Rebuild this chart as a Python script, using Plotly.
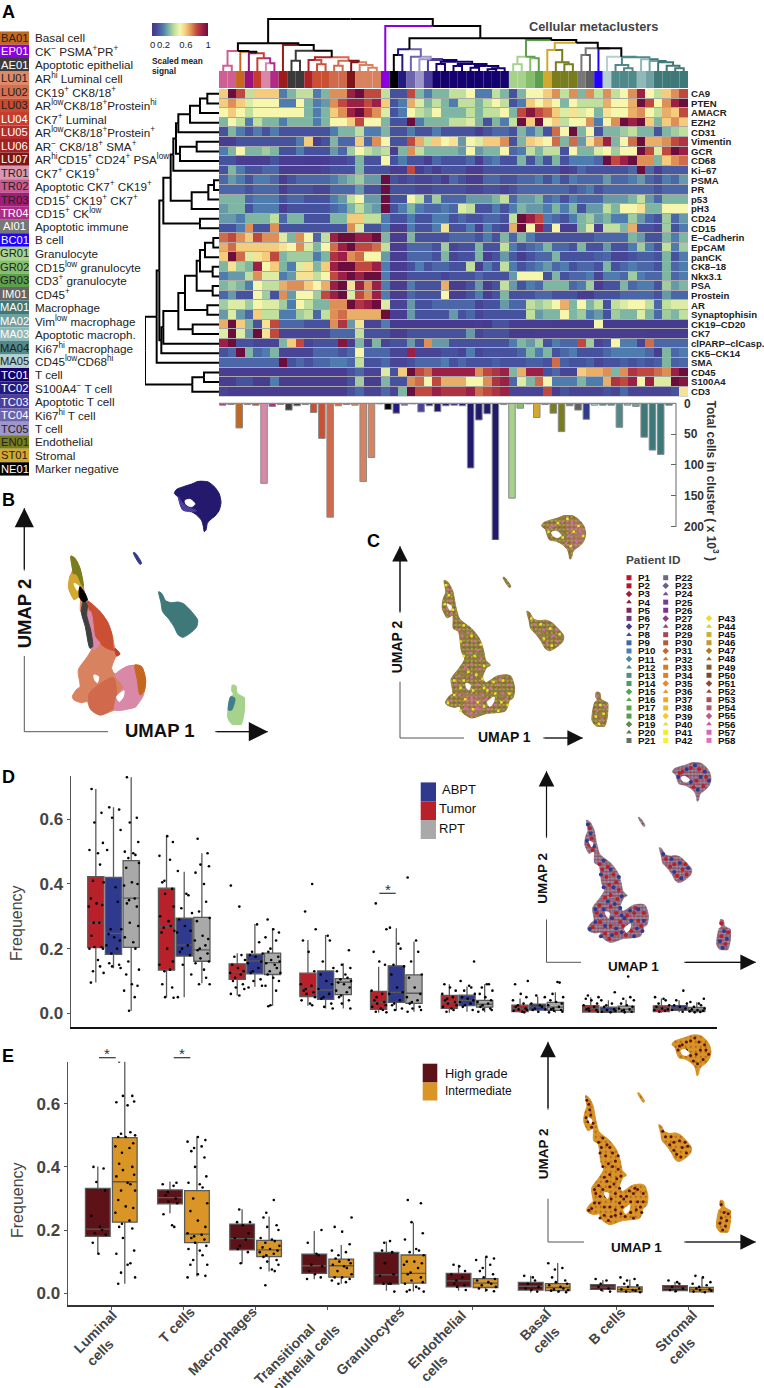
import plotly.graph_objects as go

W, H = 764, 1388
FONT = "Liberation Sans"

# ---------------- clusters (legend column of panel A)
cluster_codes = ["BA01","EP01","AE01","LU01","LU02","LU03","LU04","LU05","LU06","LU07","TR01","TR02","TR03","TR04",
                 "AI01","BC01","GR01","GR02","GR03","IM01","MA01","MA02","MA03","MA04","MA05","TC01","TC02","TC03",
                 "TC04","TC05","EN01","ST01","NE01"]
cluster_names = ["Basal cell","CK<sup>−</sup> PSMA<sup>+</sup>PR<sup>+</sup>","Apoptotic epithelial","AR<sup>hi</sup> Luminal cell",
                 "CK19<sup>+</sup> CK8/18<sup>+</sup>","AR<sup>low</sup>CK8/18<sup>+</sup>Prostein<sup>hi</sup>","CK7<sup>+</sup> Luminal",
                 "AR<sup>low</sup>CK8/18<sup>+</sup>Prostein<sup>+</sup>","AR<sup>−</sup> CK8/18<sup>+</sup> SMA<sup>+</sup>",
                 "AR<sup>hi</sup>CD15<sup>+</sup> CD24<sup>+</sup> PSA<sup>low</sup>","CK7<sup>+</sup> CK19<sup>+</sup>",
                 "Apoptotic CK7<sup>+</sup> CK19<sup>+</sup>","CD15<sup>+</sup> CK19<sup>+</sup> CK7<sup>+</sup>","CD15<sup>+</sup> CK<sup>low</sup>",
                 "Apoptotic immune","B cell","Granulocyte","CD15<sup>low</sup> granulocyte","CD3<sup>+</sup> granulocyte","CD45<sup>+</sup>",
                 "Macrophage","Vim<sup>low</sup> macrophage","Apoptotic macroph.","Ki67<sup>hi</sup> macrophage","CD45<sup>low</sup>CD68<sup>hi</sup>",
                 "T cell","S100A4<sup>−</sup> T cell","Apoptotic T cell","Ki67<sup>hi</sup> T cell","T cell","Endothelial","Stromal","Marker negative"]
cluster_colors = ["#c5681d","#8a00e0","#3b3b3b","#dc8a6a","#d4704f","#c94a2e","#c63c2e","#b52e2e","#a32323","#7f1417","#d998b0","#c95b90",
                  "#a11d78","#b02a87","#777777","#2000ff","#a8d48e","#85bf6c","#5da04c","#666666","#3f7878","#6fa1a1","#8fb8b8","#4f8989",
                  "#b4d0cf","#14006e","#231a80","#4b3f9e","#6e64ad","#9e97cb","#7a7d1e","#d2a92e","#000000"]
cluster_text = ["#222","#fff","#fff","#222","#222","#222","#fff","#fff","#fff","#fff","#222","#222","#222","#fff","#fff","#fff","#222","#222",
                "#222","#fff","#fff","#fff","#fff","#222","#222","#fff","#fff","#fff","#fff","#222","#222","#222","#fff"]

# ---------------- heatmap
markers = ["CA9","PTEN","AMACR","EZH2","CD31","Vimentin","GCR","CD68","Ki–67","PSMA","PR","p53","pH3","CD24","CD15","E–Cadherin","EpCAM",
           "panCK","CK8–18","Nkx3.1","PSA","Prostein","AR","Synaptophisin","CK19–CD20","CK7","clPARP–clCasp.","CK5–CK14","SMA","CD45","S100A4","CD3"]
CA9 = [6,10,8,4,6,6,6,2,3,4,4,2,3,7,7,9,10,8,8,4,1,1,8,3,2,3,3,4,4,5,2,2, 4,3,1,3,5,5,6,7,4,7,3,7,4,7,4,5,7,9,5,4,6,7,8]
PTEN = [6,7,6,4.5,5,5,5,2,2,5,3,2,2.5,7,8,9,9,8,9,6,1,2,6.5,4.5,3,4,3,2,4,4,3,4, 5,4,1,2,6,5,6,5,3,5,4,4,4,6.5,5,5,6.5,10,8,5,7,9,10]
AMACR = [5,6,5,4,5,5,5,5,5,5,3,2,3,6,7,9,10,8,7,4.5,1,2,5,4,3.5,5,3,3,3,4,3,4, 4,5,3,8,9.5,8,7.5,6,4.5,5.5,4.5,5,3,5.5,5,5,6.5,7,5,4,6.5,6,8]
EZH2 = [3,5,4,2,4,3,3,2,3,3,3,2,3,5,5,6,8,5,5,3,1,1,10,2,3,3,3,4,4,4.5,3,1, 3,2,4,10,6,10,5,6,4,5,5,7,2,5,7,10,9,10,6,3,6,7,6]
CD31 = [1,3,2,1,2,1,2,1,1,1,1,1,1,2,3,3,4,2,2,3,1,1,2,1,1,2,1,1,1,1,0.5,1, 1.5,1.5,1,3,2,3,1,7.5,5,10,3,5,1,3,3,3.5,4,3,3,1,3,3.5,4]
Vimentin = [0.5,0.5,1,1,1,1,1,1,1,2,6,0.5,1,3,1.5,1.5,6,1.5,7,5,1,1,8,6.5,4,6,5,5.5,2.5,5,4.5,6, 6,7,1,3,6,5.5,5,7.5,3,7.5,2.5,5.5,7,9,3,5,7.5,10,6.5,6.5,7,8,8.5]
GCR = [2,3,5,3,3,3.5,3,1,1,2,1,1,1,2.5,1.5,3.5,5,4,3.5,4,0.5,3,7,4,3,3,3,3,2.5,5,2.5,3, 3,5,1.5,2,4,3,4,4,1,5,3,3,4.5,5,3.5,5,5,10,8,4.5,8,10,9]
CD68 = [1,1,0.5,0.5,0.5,0.5,1,0.5,0.5,0.5,0.3,0.3,0.5,0.7,0.7,1,3,1,1,5,1,2,1,1,0.5,1.5,1,1,1,1.5,0.5,1.5, 2,1,1,3,1,2.5,1,3,1,2,2,2,1.5,10,8,9,10,7,7,3,6,7,7.5]
Ki67 = [1,3,2,1,1,1.5,1.5,0.5,0.5,0.5,0.5,0.5,0.7,1,1,1,3,1,1,1,0.5,0.5,8,0.5,1,0.5,1,1,1,0.5,0.5,1, 1,1,1,1,1,1,1,1,0.5,0.7,1.5,1,1,1,1,1,1.5,10,1.5,0.5,1.2,1.2,1.2]
PSMA = [1.5,2.5,2,1,2,2,1.5,0.5,1,1.5,1.5,1.5,1.5,2,2.5,3,3.5,2.5,2.5,10,1,0.7,1,0.7,0.7,1,0.5,1.5,1,0.5,0.5,1.5, 1.5,1,1,1.5,1.5,2,1,2,1,2,1.5,1.5,1.5,2.5,1.5,1.5,2,2.5,1.5,1,2,1.5,2.5]
PR = [1.5,1.5,1.5,1,1.5,1.5,1.5,0.5,1,1,1,0.7,0.7,1.5,1.5,1.5,2.5,1,1,10,1,1,1,0.7,0.7,1,1,1,1,0.7,0.7,1, 1,0.7,1,1.5,1.5,1.5,1.5,1.5,1.5,1,1.5,2,1,1.5,1.5,1.5,1.5,1.5,1.5,1,1.5,1.5,1.5]
p53 = [3,3,3,1.5,2,2,2,1,1.5,1.5,1,1,1,2,2.5,4,5,2.5,2.5,10,1,1,5,4,1.5,3.5,1.5,1.5,1.5,2.5,2.5,2.5, 3,4,1.5,2.5,2.5,3,1.5,2,1,2,1.5,1.5,1.5,2.5,2.5,2.5,3,4,2.5,1.5,3,3,3]
pH3 = [2.5,3,3,1,2,2,2,0.5,1,1,1,1,1,1.5,2,3,4,3,2.5,10,1,2,3,2,1.5,1.5,2,1.5,4.5,4,1,1, 2,1,2,3,2.5,2.5,2,3,2,3,1,2.5,2.5,4,3,5,5,5.5,3,3,5,5,5]
CD24 = [2.5,2.5,2,3,3,3,4,1.5,3,3,1,1,1,3,3,6,6,4,4,2,1,1,2,1,1,2,2,1,1.5,1,1,1.5, 1.5,1,4,10,9,8,2,1.5,1,2,3,3.5,2.5,3,2,2,3.5,2.5,1.5,1,3.5,1.5,2.5]
CD15 = [1,1,2,7,1,1,7,1,1,1,1,1,1,1,1,7,4.5,1,1,2,0.5,0.5,2,1,1,2,5.5,1,1,2,0.5,2, 1,0.7,6.5,10,5,9,1,5,0.5,0.5,3,4.5,0.5,4,4,3,6.5,1,1,0.7,3.5,1,2]
ECad = [7.5,8,7,6,8,7,7,4.5,3,7,5,1.5,4,9,10,10,9,9,10,3,0.5,0.5,3,1,1,1,1,1.5,1.5,1.5,1,2, 1,3,1.5,3,2,1,1,1,1,1,1,1,1.5,1.5,1.5,1.5,3,2.5,1,1,3,2,3]
EpCAM = [6.5,7.5,6,6,6,6,6,5.5,5,7,4.5,3,5,7.5,9,10,8,8,7.5,4,0.5,0.5,1.5,1.5,1.5,1,3.5,0.7,1,1,3,1, 1,4,2,1,1.5,2,3,1.5,1.5,1,3,1,1,2.5,1,1,2,3.5,2,1,4,2,3.5]
panCK = [6,10,7.5,4.5,5.5,6,8,3,3.5,3.5,3.5,2,3,8.5,9,7,7.5,5,5,2.5,0.5,0.5,1.5,1.5,1.5,1,3,0.7,1,1,3,0.5, 1,2.5,1.2,0.5,1,1.5,1.5,3,1,1,1,1,1.3,1.5,0.7,0.7,1,1.3,1.3,1,3,1,2]
CK818 = [3,5.5,3.5,3,9,5,6,3,2,4.5,5.5,3,6,9,10,10,8,8,9,2,0.5,0.5,1,2,1,1.5,1.5,1,1,4,0.5,2, 1,4,2,1,1.5,2,2.5,1.5,2,1,1.5,1.5,1,3,1,1.5,2,1.5,1.5,1,3,1.5,2]
Nkx31 = [2,2.5,2.5,4,7,4.5,4.5,2,2.5,5.5,5.5,4,5,8,9,10,9,10,10,2,0.5,0.5,1,1,1,1,0.7,1,1,1,1.5,1, 1,1,2.5,5,5,5,1,3,1,1.5,1.5,2,0.7,2,2,1.5,3.5,2,1.5,1.5,3,1.5,2]
PSA = [3,3.5,3,2,5,4,4,6.5,7,7,6,5,6.5,9,10,5.5,9,7,9,2,0.5,0.5,2,1,1,1,6.5,0.5,0.5,1,2.5,0.5, 1,4,2.5,1,2,1.5,3,3,3,1.5,2,3.5,0.5,1,1,3,1.5,2,2,1,3.5,2.5,3]
Prostein = [1.5,2.5,1,1,5,3.5,1,7,2.5,5,5,3.5,8,9,10,4.5,8,7,9,2,0.5,0.5,1.5,1,1,1,5,0.5,0.5,1,2,0.5, 1,3,1,1,1,1.5,1.5,1,1,1,0.5,0.5,1,1,1,1.5,1.5,1.5,1.5,1,2.5,1.5,1.5]
AR = [3.5,4.5,4.5,3.5,5,4.5,4.5,3.5,2,5,4,3,3,7,7,10,8.5,9,10,4.5,0.7,0.7,2.5,1,1,1.5,1.5,1.5,1.5,1.5,0.7,1, 1,2.5,1.5,1.5,4,3.5,4,5,6.5,3,5,3,4,1,4,4.5,5,5,4,1.5,4,4.5,4.5]
Synapto = [2.5,4.5,2.5,1.5,6,4,4,2,2,3.5,4,1.5,4,7,7.5,6.5,6.5,6.5,6.5,10,0.5,0.5,2.5,1,1,1,1,2.5,1,1.5,0.7,1, 1,1,1,1,4,2.5,3,3,5,3,3.5,2,2.5,1,3.5,3,3,4.5,3,1.5,3.5,3,4]
CK19 = [6.5,10,6,3,1,5.5,8,1.5,1.5,1.5,1,1,1,7,8.5,2.5,5.5,0.7,0.7,2,0.3,0.3,0.3,0.3,0.3,0.3,0.3,0.3,0.3,0.3,0.5,0.3, 1,1,0.5,0.5,0.5,0.5,0.5,0.3,0.3,0.3,0.3,0.3,5,0.3,0.3,0.3,0.3,0.3,0.3,0.3,0.3,0.3,0.3]
CK7 = [4.5,10,4.5,2.5,10,5.5,8,0.7,0.7,0.7,0.7,0.7,0.7,1.5,1.5,1.5,4,1,1,1,0.5,0.5,1,1,1,1,1,1,1,2.5,0.7,1, 1,1,0.3,0.3,0.3,0.5,0.5,0.5,0.5,0.5,0.5,0.5,0.5,0.5,0.5,0.5,0.5,0.5,0.3,0.3,0.3,0.3,0.3]
clPARP = [9,10,1,1,0.7,0.7,0.7,3,6,8,0.7,1,1,1,9.5,0.5,3,0.7,3,0.7,1,1,2.5,1,7,2.5,2.5,1,1,1,1,1, 1,1,2,3,2.5,3.5,1,2,1.5,1.5,8,3.5,0.7,1,5,2,2,0.7,7.5,1.5,1.5,1.5,1.5]
CK5 = [1,1.5,10,3,1.5,2,3,0.7,0.7,0.7,0.7,1.5,1.5,1.5,1,1.5,5,1.5,1.5,1.5,0.7,0.7,9,0.7,0.7,0.7,1,1,0.7,2,0.7,1, 1,1,1,1.5,3,2,3,1,1.5,2,1,1,1,1.5,2,2,2,2,1.5,0.5,3,1.5,2]
SMA = [1.5,1.5,1.5,1.5,1.5,1.5,1.5,10,1,1.5,1,1.5,1.5,2,2,1.5,4,1,1,1.5,0.7,0.7,1,1.5,1.5,1.5,2,1,1.5,1,1,1, 1.3,1,1,1,1.3,1.3,1,7.5,1.3,1,1,1.3,0.7,1,1,1.3,1,1.3,1,1.3,3,1.3,1.5]
CD45 = [0.5,0.5,0.5,0.5,0.5,0.5,0.5,0.5,0.5,0.5,0.5,0.5,0.5,0.5,0.5,1,1.5,0.7,0.7,4.5,1,6,10,8,7.5,9,9,9,9,9,7,8, 8.5,9,3,6.5,9,9,1,1.5,0.7,0.7,6,6.5,6.5,7,3,7,8.5,8,8,7.5,7,9,10]
S100A4 = [0.5,0.5,1,1,0.5,0.5,2,0.5,0.5,0.5,0.5,0.5,0.5,0.5,0.5,1,3.5,0.5,0.5,3,1,1,7,7.5,5,8,6.5,6.5,6.5,5,5,7, 8.5,9,1.5,4.5,3,7.5,5,2,2,2,3,2,2,6.5,8.5,8,9,5,9,4.5,4.5,10,9.5]
CD3 = [0.7,0.5,0.5,0.5,0.5,0.5,0.5,0.5,0.5,0.5,0.5,0.5,0.5,0.5,0.5,1,1.5,0.7,0.7,1.5,0.7,3,10,8,8,9,8.5,8.5,8.5,9,7.5,8, 8.5,9,0.7,0.7,0.7,0.7,8,0.5,1,0.7,0.7,0.7,0.7,1,0.7,1.5,0.7,0.7,0.7,0.7,0.7,1,5.5]
heat_rows = [CA9,PTEN,AMACR,EZH2,CD31,Vimentin,GCR,CD68,Ki67,PSMA,PR,p53,pH3,CD24,CD15,ECad,EpCAM,panCK,CK818,Nkx31,PSA,Prostein,AR,Synapto,CK19,CK7,clPARP,CK5,SMA,CD45,S100A4,CD3]
for nm, r in zip(markers, heat_rows):
    assert len(r) == 55, (nm, len(r))

spectral = [[0,"#45378c"],[.05,"#493d92"],[.1,"#47529f"],[.2,"#4f7cae"],[.3,"#7fb5a3"],[.4,"#c2e09d"],[.5,"#f6f7ad"],[.6,"#f4cc7b"],
            [.7,"#de8f55"],[.8,"#c0483f"],[.9,"#9c2046"],[1,"#6b0d3d"]]

# ---------------- column strip + bars
strip_colors = ["#cf5f92","#cf5f92","#c5681d","#9b1278","#c63c2e","#d988a8","#b02a87","#9c1c1c","#3a3a3a","#3a3a3a","#ab2327","#cb4f33","#cb4f33",
                "#d16a4c","#d16a4c","#7f1417","#d9825f","#d9825f","#d9825f","#8a00e0","#000000","#231a80","#6e64ad","#9e97cb","#4b3f9e",
                "#14006e","#14006e","#14006e","#14006e","#14006e","#14006e","#14006e","#14006e","#14006e",
                "#a6d28c","#a6d28c","#86bf6c","#5da04c","#d2a92e","#7a7d1e","#7a7d1e","#7a7d1e","#777777","#5f5f5f","#2000ff","#b4d0cf",
                "#4f8989","#4f8989","#4f8989","#8fb8b8","#6fa1a1","#3f7878","#3f7878","#3f7878","#3f7878"]
bar_values = [3,2,40,2,3,130,5,2,11,4,2,15,57,185,4,2,3,127,88,1,10,16,3,1,14,4,13.5,4,3,4,105,27,17,222,2,154,8,1,23,2,16,46,4,11,26,3,3,3,39,3,5,55,76,83,3]
bar_colors = list(strip_colors)
bar_colors[0] = "#b02a87"; bar_colors[1] = "#cf5f92"; bar_colors[19] = "#3a3a3a"; bar_colors[20] = "#000000"
bar_colors[25:34] = ["#201a6e"] * 9
bar_colors[44] = "#2f3b8c"
bar_colors[51:54] = ["#3f7878"] * 3

# ---------------- dendrograms: (height, colour, left, right); leaves are integers
def N(y, c, l, r):
    return (213 - y, c, l, r)
def R(x, l, r):
    return (657 - x, "#000000", l, r)
BK = "#000000"
n_pink = N(197, "#cf5f92", 1, 2)
n_red = N(175, "#c63c2e", 5, N(190, "#b02a87", 6, 7))
n_lumA = N(153, BK, n_pink, N(155, BK, 3, N(160, BK, 4, n_red)))
n_red2 = N(180, "#ab2327", 11, N(193, "#cb4f33", 12, 13))
n_sal = N(182, "#d16a4c", N(197, "#d16a4c", 14, 15), N(187, "#7f1417", 16, N(195, "#d9825f", 17, N(203, "#d9825f", 18, 19))))
n_lumB = N(135, BK, 8, N(152, BK, N(182, "#3a3a3a", 9, 10), N(172, BK, n_red2, n_sal)))
n_left = N(130, BK, n_lumA, n_lumB)
n_navy = N(185, "#14006e", N(192, "#14006e", 26, 27), N(192, "#14006e", N(198, "#14006e", 28, 29), N(198, "#14006e", N(203, "#14006e", 30, 31), N(205, "#14006e", N(208, "#14006e", 32, 33), 34))))
n_t = N(148, BK, N(165, "#231a80", 21, 22), N(170, "#6e64ad", 23, N(178, "#9e97cb", 24, N(180, "#14006e", 25, n_navy))))
n_gran = N(170, "#5da04c", N(193, "#a6d28c", 35, 36), N(175, "#5da04c", 37, 38))
n_olive = N(150, "#d2a92e", 39, N(187, "#7a7d1e", 40, N(193, "#7a7d1e", 41, 42)))
n_teal = N(170, BK, 46, N(172, "#4f8989", N(195, "#4f8989", 47, N(205, "#4f8989", 48, 49)),
                                 N(178, "#4f8989", 50, N(183, "#3f7878", 51, N(187, "#3f7878", 52, N(197, "#3f7878", 53, N(205, "#3f7878", 54, 55)))))))
n_right3 = N(128, BK, n_olive, N(145, BK, N(165, "#777777", 43, 44), N(145, BK, 45, n_teal)))
n_right = N(120, BK, n_gran, n_right3)
n_r2 = N(115, BK, n_t, n_right)
top_tree = N(57, BK, n_left, N(78, BK, 20, n_r2))

r_a = R(570, R(600, R(622, 0, 1), 2), 3)
r_b = R(535, r_a, 4)
r_c = R(540, R(590, 5, 6), 7)
r_e = R(520, R(528, r_b, r_c), 8)
r_g = R(575, R(625, R(642, 9, 10), 11), 12)
r_m1 = R(490, R(512, r_e, r_g), R(600, 13, 14))
r_j1 = R(600, R(615, R(640, 15, 16), 17), R(638, 18, 19))
r_j3 = R(555, R(590, r_j1, R(638, 20, 21)), R(622, 22, 23))
r_j6 = R(484, R(490, R(535, r_j3, R(578, 24, 25)), 26), 27)
r_l = R(470, R(478, r_m1, r_j6), 28)
r_k = R(577, R(612, 29, 30), 31)
row_tree = R(435, r_l, r_k)

# ---------------- UMAP regions, in UMAP units
body_x = [213,225,240,250,262,300,325,338,345,360,348,335,345,380,410,425,437,432,420,408,345,300,270,262,245,222,217,230,240,235,262,278,268,258,242,240,222,212,205,212,218]
body_y = [228,235,265,320,362,395,430,470,505,522,530,565,582,560,555,560,600,635,645,680,690,705,685,665,668,660,650,628,620,570,530,500,475,405,395,350,358,340,320,285,270]
top_x = [523,530,550,575,600,625,645,658,663,657,645,630,622,618,613,610,605,590,570,548,540,535]
top_y = [40,28,20,12,2,6,22,42,68,92,108,120,130,150,155,140,122,105,93,88,70,52]
sliver_x = [400,405,425,420]; sliver_y = [218,218,250,253]
teal_x = [476,485,497,515,535,552,575,593,590,570,548,535,522,505,488,483]
teal_y = [335,340,362,368,366,372,395,420,440,460,472,465,440,415,395,368]
green_x = [697,708,712,735,735,722,695,683,692,700,695]
green_y = [615,618,640,655,680,735,732,712,650,643,632]
outline_regions = [(body_x, body_y), (top_x, top_y), (sliver_x, sliver_y), (teal_x, teal_y), (green_x, green_y)]
holes = [([350,372,370,358], [650,632,650,665]), ([555,570,585,575,560], [62,58,72,80,75]), ([282,296,292,284],[585,590,608,600]), ([222,236,232],[310,318,332])]
stray_x = [100]; stray_y = [510]
b_regions = [
    ("#d9825f", body_x, body_y),
    ("#231a6e", top_x, top_y),
    ("#4b3f9e", [535,545,560,590,570,548,540], [50,65,80,92,95,90,72]),
    ("#2f3b8c", sliver_x, sliver_y),
    ("#7a7d1e", [213,225,240,250,242,225,218], [228,235,265,320,325,300,270]),
    ("#d2a92e", [212,228,240,248,240,222,212,205], [285,285,310,325,345,358,340,320]),
    ("#cb4f33", [262,298,322,336,340,345,320,300,285,270], [362,392,425,465,505,512,505,490,470,395]),
    ("#d988a8", [252,272,285,300,282,270,258], [390,395,470,490,510,475,430]),
    ("#3f4040", [252,262,260,272,278,270,256,244], [360,375,405,450,500,505,440,395]),
    ("#000000", [240,255,262,250,238], [320,340,360,365,350]),
    ("#c63c2e", [345,360,350], [505,522,528]),
    ("#d16a4c", [268,340,350,345,300,272], [640,592,640,680,705,688]),
    ("#d988a8", [345,380,410,432,405,345,350,370], [585,560,560,640,680,690,650,620]),
    ("#c5681d", [405,425,437,432,420,412], [555,560,600,635,645,600]),
    ("#3f7878", teal_x, teal_y),
    ("#a6d28c", green_x, green_y),
    ("#3f7f8a", [692,705,695,685], [650,655,690,690]),
]
# hand-read patches of the two dominant labels on the patient / treatment / grade maps
patch_a_x = [225,232,222,235,260,270,290,310,285,320,295,330,300,280,325,260,300,250,285,320,262,300,335,280,320,295,235,360,385,400,375,410,420,355,345,390,560,590,620,645,610,635,600,575,550,500,530,560,540,570,515,575,700,715,725,700]
patch_a_y = [260,300,325,345,400,420,410,440,450,470,480,500,520,530,535,560,565,590,600,590,625,640,625,670,670,690,645,600,590,620,660,640,590,675,640,570,40,25,30,60,75,95,100,60,45,380,400,420,445,400,410,440,680,710,665,630]
patch_b_x = [218,228,215,240,275,300,265,330,310,275,340,290,315,245,275,335,265,305,340,245,280,320,265,305,340,225,370,400,375,395,420,365,415,385,350,575,605,640,655,625,590,615,545,490,520,550,580,530,555,695,720,710,705]
patch_b_y = [245,280,310,330,385,420,440,450,490,490,525,545,555,575,575,570,600,610,600,625,640,650,680,675,665,652,580,575,620,650,620,640,660,680,610,30,15,40,75,60,80,110,60,360,380,395,415,430,455,700,690,660,725]
pink_top_x = [600,640,660,650,620,610]; pink_top_y = [20,20,60,100,125,80]
pink_low_x = [275,330,335,300,278]; pink_low_y = [620,630,680,700,670]

# ---------------- Patients
patient_colors = ["#c8102e","#b5172b","#a31a36","#8b1a3e","#7a2a5a","#6b3a78","#4f3a8f","#3f4aa0","#3f66ad","#4a7fb0","#4a8aa0","#4a8a8a","#4d8f80","#4f9a6a","#4fa35a","#55a845",
                  "#5aa845","#5a9a4a","#5a8a50","#5f7a5a","#667066","#6a6a78","#6f5a8f","#7a4a9f","#7a3a9a","#7f3090","#8a3a80","#9a3f68","#a54a50","#b05a3f","#c0682f","#d0742a",
                  "#dc7a22","#e47f20","#ec8a1f","#ec9a20","#eeaa22","#f0ba25","#f2ca28","#f4da2a","#f6ea2c","#f8f030","#ecdc30","#dcc830","#ccb030","#bc9a2c","#a88028","#986a28",
                  "#8a5a2a","#80482a","#8a4a38","#984a48","#a84f58","#b05a6a","#c05a80","#cc5a98","#d868ac","#e070b8"]
patient_symbols = ["square","square","diamond","triangle-up"]

# ---------------- box statistics: [q1, median, q3, low whisker, high whisker]
cats = ["Luminal<br>cells","T cells","Macrophages","Transitional<br>epithelial cells","Granulocytes","Endothelial<br>cells","Basal<br>cells","B cells","Stromal<br>cells"]
cat_label_x = [101.7,176.7,222.4,297.3,370,442.9,541.9,606.7,682.4]
cat_label_y = [1338.4,1325,1340.7,1354,1340.7,1345.5,1331,1325.7,1336.7]
d_tumor = [[.203,.28,.423,.095,.694],[.134,.268,.387,.05,.548],[.105,.128,.153,.055,.186],[.052,.075,.124,.023,.227],[.012,.033,.068,.002,.144],[.015,.035,.055,.002,.09],[.005,.015,.025,.002,.046],[.004,.014,.024,.002,.05],[.005,.014,.023,.002,.046]]
d_abpt = [[.182,.247,.42,.139,.637],[.177,.211,.294,.05,.438],[.122,.162,.183,.082,.276],[.043,.072,.131,.015,.242],[.034,.065,.147,.008,.263],[.024,.04,.056,.005,.083],[.01,.019,.028,.002,.052],[.003,.009,.019,.001,.04],[.009,.016,.024,.003,.04]]
d_rpt = [[.204,.356,.472,.008,.73],[.161,.196,.297,.093,.495],[.12,.157,.186,.023,.263],[.058,.096,.107,.015,.155],[.031,.062,.119,.005,.222],[.019,.028,.04,.003,.09],[.009,.019,.034,.002,.065],[.004,.013,.022,.002,.042],[.005,.01,.018,.002,.034]]
e_high = [[.18,.203,.332,.124,.401],[.283,.303,.327,.253,.354],[.137,.173,.219,.093,.266],[.063,.087,.124,.044,.197],[.029,.058,.129,.008,.164],[.02,.039,.063,.008,.09],[.01,.022,.034,.002,.055],[.012,.019,.027,.004,.042],[.008,.016,.024,.002,.036]]
e_inter = [[.225,.353,.493,.03,.734],[.16,.187,.325,.053,.496],[.116,.137,.167,.069,.243],[.051,.087,.108,.03,.153],[.032,.063,.121,.005,.224],[.018,.032,.046,.004,.116],[.008,.018,.03,.002,.096],[.004,.011,.02,.001,.043],[.004,.011,.018,.001,.05]]

d_tumor_pts = [[.694,.62,.59,.527,.505,.495,.46,.41,.405,.355,.34,.335,.33,.28,.28,.24,.205,.205,.2,.2,.165,.145,.13,.125,.095],
 [.548,.53,.487,.475,.41,.405,.385,.37,.33,.3,.285,.27,.265,.255,.25,.2,.16,.15,.135,.13,.09,.08,.05,.048],
 [.395,.33,.18,.175,.165,.15,.14,.13,.125,.12,.11,.1,.09,.08,.075,.06,.055],
 [.4,.315,.26,.225,.19,.13,.09,.085,.075,.07,.065,.06,.05,.04,.03,.025],
 [.34,.26,.19,.16,.15,.07,.06,.05,.04,.035,.03,.025,.02,.015,.01,.005,.003],
 [.09,.08,.07,.06,.05,.045,.04,.035,.03,.025,.02,.015,.01,.005],
 [.1,.09,.06,.05,.04,.03,.025,.02,.015,.012,.01,.008,.005,.003],
 [.055,.05,.045,.04,.03,.025,.02,.015,.012,.01,.008,.005],
 [.05,.045,.04,.03,.025,.02,.015,.012,.01,.008,.005]]
d_abpt_pts = [[.637,.63,.605,.567,.505,.39,.345,.26,.26,.245,.235,.225,.21,.2,.185,.155,.15,.145,.14],
 [.44,.37,.365,.325,.31,.29,.27,.255,.25,.21,.2,.19,.18,.15,.12,.05],
 [.275,.22,.19,.185,.18,.175,.16,.155,.14,.13,.125,.105,.1,.085,.08],
 [.24,.225,.16,.14,.12,.1,.09,.075,.06,.05,.045,.03,.02,.015],
 [.265,.215,.2,.15,.145,.12,.08,.065,.06,.04,.03,.025,.015,.01],
 [.16,.1,.085,.08,.07,.06,.05,.045,.04,.035,.03,.025,.02,.01],
 [.055,.05,.03,.025,.02,.015,.012,.01,.005],
 [.065,.04,.03,.025,.02,.012,.01,.008,.005,.003],
 [.07,.04,.03,.025,.02,.015,.01,.005]]
d_rpt_pts = [[.73,.605,.59,.53,.5,.495,.49,.48,.465,.45,.405,.4,.395,.355,.35,.34,.33,.28,.27,.235,.22,.2,.16,.135,.12,.09,.085,.07,.05,.008],
 [.54,.495,.46,.455,.435,.4,.345,.315,.295,.285,.24,.23,.225,.21,.2,.195,.185,.17,.16,.155,.135,.11,.09,.09],
 [.29,.26,.25,.235,.225,.2,.19,.175,.165,.16,.155,.15,.14,.13,.125,.12,.11,.1,.085,.07,.025,.022],
 [.195,.15,.14,.13,.12,.11,.105,.1,.095,.09,.08,.07,.065,.055,.05,.04,.03,.015],
 [.42,.225,.19,.16,.12,.11,.08,.06,.05,.04,.035,.03,.02,.015,.01,.005],
 [.09,.09,.08,.07,.06,.05,.04,.035,.03,.025,.02,.015,.012,.01,.005],
 [.097,.095,.06,.05,.04,.035,.03,.025,.02,.015,.012,.01,.008,.005,.003],
 [.114,.05,.045,.04,.03,.025,.02,.015,.012,.01,.008,.005,.003],
 [.045,.035,.03,.025,.02,.015,.012,.01,.008,.006,.004,.003]]
e_high_pts = [[.4,.395,.352,.325,.245,.21,.2,.19,.185,.16,.125],
 [.35,.345,.34,.32,.31,.3,.29,.285,.25,.215,.21],
 [.265,.225,.225,.215,.19,.175,.17,.15,.14,.13,.095],
 [.2,.16,.125,.12,.09,.085,.07,.06,.05,.045],
 [.165,.16,.135,.13,.095,.06,.055,.03,.03,.03,.005],
 [.09,.085,.07,.06,.05,.04,.03,.025,.02,.01],
 [.055,.05,.04,.03,.02,.015,.01,.005],
 [.045,.04,.03,.02,.015,.01,.005],
 [.04,.035,.03,.02,.015,.01,.006]]
e_inter_pts = [[.734,.625,.625,.607,.605,.595,.51,.505,.5,.495,.495,.475,.465,.46,.445,.41,.4,.39,.375,.37,.35,.345,.325,.325,.295,.275,.27,.255,.23,.22,.21,.205,.175,.135,.125,.09,.095,.065,.05,.03],
 [.495,.485,.48,.465,.46,.45,.43,.4,.37,.35,.345,.335,.3,.285,.26,.23,.21,.19,.185,.18,.175,.17,.16,.15,.14,.135,.12,.105,.09,.09,.06,.055,.05],
 [.295,.255,.24,.215,.21,.2,.175,.17,.165,.16,.15,.145,.14,.135,.13,.125,.12,.115,.105,.1,.09,.08,.075,.07,.025],
 [.24,.21,.195,.155,.135,.13,.12,.11,.105,.1,.095,.09,.085,.08,.07,.06,.05,.05,.045,.04,.035,.03],
 [.295,.285,.225,.19,.17,.14,.135,.13,.12,.1,.1,.095,.09,.08,.065,.06,.05,.04,.035,.03,.02,.015,.01,.005,.005],
 [.115,.11,.105,.09,.08,.07,.06,.05,.045,.04,.035,.03,.025,.02,.015,.01,.006],
 [.095,.08,.075,.05,.04,.035,.03,.025,.02,.015,.012,.01,.008,.005,.003],
 [.05,.045,.04,.03,.025,.02,.015,.012,.01,.008,.005,.003],
 [.055,.05,.035,.03,.025,.02,.015,.012,.01,.008,.005,.003]]
jitter = [-.06,.08,-.02,.1,-.09,.03,.06,-.04,.11,-.07,.01,.09,-.1,.05,-.03]

# ================= construction =================
fig = go.Figure()
layout = {}
anns, shapes = [], []

def dom(x0, x1, y0, y1):
    return [x0 / W, x1 / W], [1 - y1 / H, 1 - y0 / H]

def axes(i, x0, x1, y0, y1, xr, yr, **kw):
    dx, dy = dom(x0, x1, y0, y1)
    s = "" if i == 1 else str(i)
    base = dict(visible=False, fixedrange=True)
    xk = dict(base, domain=dx, range=xr, anchor="y" + s)
    yk = dict(base, domain=dy, range=yr, anchor="x" + s)
    xk.update(kw.get("xkw", {})); yk.update(kw.get("ykw", {}))
    layout["xaxis" + s] = xk
    layout["yaxis" + s] = yk
    return "x" + s, "y" + s

def T(x, y, s, size=11, color="#222", anchor="left", bold=False, angle=0, align="center"):
    if anchor == "left":
        x -= 2
    anns.append(dict(x=x / W, y=1 - y / H, xref="paper", yref="paper", text=s, showarrow=False, xanchor=anchor, yanchor="middle", align=align,
                     textangle=angle, font=dict(family=FONT, size=size, color=color, weight="bold" if bold else "normal")))

def L(x0, y0, x1, y1, color="#555", width=1):
    shapes.append(dict(type="line", xref="paper", yref="paper", x0=x0 / W, x1=x1 / W, y0=1 - y0 / H, y1=1 - y1 / H,
                       line=dict(color=color, width=width)))

def arrow(x0, y0, x1, y1, size=3):
    L(x0, y0, x1, y1)
    anns.append(dict(x=x1 / W, y=1 - y1 / H, xref="paper", yref="paper", ax=x0 - x1, ay=y0 - y1, axref="pixel", ayref="pixel", text="",
                     showarrow=True, arrowhead=2, arrowsize=size, arrowwidth=1.2, arrowcolor="#111"))

# ---- panel A
hx, hy = axes(1, 219, 688, 89, 396.5, [.5, 55.5], [31.5, -.5],
              ykw=dict(visible=True, side="right", tickmode="array", tickvals=list(range(32)), ticktext=markers, showgrid=False, zeroline=False,
                       ticks="", showline=False, ticklabelstandoff=2, tickfont=dict(family=FONT, size=9.6, color="#222", weight="bold")))
fig.add_trace(go.Heatmap(z=heat_rows, x=list(range(1, 56)), y=list(range(32)), xaxis=hx, yaxis=hy, zmin=0, zmax=10, colorscale=spectral, ygap=1,
                         hoverinfo="skip",
                         colorbar=dict(orientation="h", x=152.3 / W, y=1 - 22.7 / H, xanchor="left", yanchor="top", len=56, lenmode="pixels",
                                       thickness=13, thicknessmode="pixels", outlinewidth=0, tickmode="array", tickvals=[0.05, 2, 6, 9.95],
                                       ticktext=["0", "0.2", "0.6", "1"], ticks="", tickangle=0, tickfont=dict(family=FONT, size=9.5, color="#222"), ypad=0, xpad=0)))
# grey rules behind the heatmap rows
shapes.append(dict(type="rect", xref="paper", yref="paper", x0=219 / W, x1=688 / W, y0=1 - 89 / H, y1=1 - 396.5 / H, fillcolor="#aaaaaa", line=dict(width=0), layer="below"))

sx, sy = axes(2, 219, 688, 71, 88, [.5, 55.5], [0, 1])
fig.add_trace(go.Bar(x=list(range(1, 56)), y=[1] * 55, width=1, marker=dict(color=strip_colors, line=dict(width=0)), xaxis=sx, yaxis=sy, hoverinfo="skip"))

def walk(node, pos_of, color_of, segs):
    if not isinstance(node, tuple):
        return pos_of(node), 0, color_of(node)
    h, c, l, r = node
    lp, lh, lc = walk(l, pos_of, color_of, segs)
    rp, rh, rc = walk(r, pos_of, color_of, segs)
    p = (lp + rp) / 2
    segs.append((lc, [lp, lp, p], [lh, h, h]))
    segs.append((rc, [rp, rp, p], [rh, h, h]))
    return p, h, c

def draw_tree(tree, pos_of, color_of, xa, ya, horizontal):
    segs = []
    walk(tree, pos_of, color_of, segs)
    by = {}
    for c, ps, hs in segs:
        by.setdefault(c, []).append((ps, hs))
    for c in sorted(by, key=lambda k: k == BK):
        X, Y = [], []
        for ps, hs in by[c]:
            X += ps + [None]; Y += hs + [None]
        if not horizontal:
            X, Y = Y, X
        fig.add_trace(go.Scatter(x=X, y=Y, mode="lines", line=dict(color=c, width=2), xaxis=xa, yaxis=ya, hoverinfo="skip"))

tx, ty = axes(3, 219, 688, 0, 71, [.5, 55.5], [0, 213])
draw_tree(top_tree, lambda c: c, lambda c: strip_colors[c - 1], tx, ty, True)
rx, ry = axes(4, 145, 219, 89, 396.5, [222, 0], [31.5, -.5])
draw_tree(row_tree, lambda r: r, lambda r: BK, rx, ry, False)

# cluster code column
cx, cy = axes(5, 0, 29, 37.9 - 6.73, 37.9 + 32 * 13.47 + 6.73, [0, 1], [32.5, -.5])
fig.add_trace(go.Bar(y=list(range(33)), x=[1] * 33, orientation="h", width=1, marker=dict(color=cluster_colors, line=dict(width=0)), xaxis=cx, yaxis=cy, hoverinfo="skip"))
for i in range(33):
    y = 37.9 + i * 13.47
    T(14.5, y, cluster_codes[i], 11.2, cluster_text[i], "center")
    T(34.5, y, cluster_names[i], 11.7, "#222")

# total-cell bars
bx, by_ = axes(6, 219, 676, 403.3, 540, [.55, 55.85], [222, 0],
               ykw=dict(visible=True, side="right", tickvals=[0, 50, 100, 150, 200], ticks="inside", ticklen=5, tickcolor="#666", showline=False, showgrid=False,
                        zeroline=False, ticklabelstandoff=7, tickfont=dict(family=FONT, size=12, color="#333", weight="bold")))
fig.add_trace(go.Bar(x=list(range(1, 56)), y=bar_values, width=.79, marker=dict(color=bar_colors, line=dict(color="#8a8a8a", width=1)), xaxis=bx, yaxis=by_, hoverinfo="skip"))
L(219, 403.3, 676, 403.3, "#8a8a8a", 1.2)
L(676, 403.3, 676, 526.7, "#666", 1)
T(712.5, 481, "Total cells in cluster ( x 10<sup>3</sup> )", 12, "#333", "center", True, 90)

T(593, 27, "Cellular metaclusters", 12.8, "#444", "center", True)
T(152, 60.7, "Scaled mean", 8.3, "#222", bold=True)
T(152, 70.7, "signal", 8.3, "#222", bold=True)

for s, x, y in [("A", 2, 12), ("B", 2, 500), ("C", 367, 541), ("D", 2, 777), ("E", 2, 1056)]:
    T(x, y, s, 18, "#000", bold=True)

# ---- UMAP panels
def umap_axes(i, x0, x1, y0, y1):
    return axes(i, x0, x1, y0, y1, [205, 735], [735, 2])

def poly(xs, ys, xa, ya, color, pattern=None, line=True):
    kw = {}
    if pattern:
        kw["fillpattern"] = pattern
    ln = dict(color=color if line else "rgba(0,0,0,0)", width=1 if line else 0, shape="spline", smoothing=0.7)
    fig.add_trace(go.Scatter(x=list(xs) + [xs[0]], y=list(ys) + [ys[0]], fill="toself", fillcolor=color, mode="lines", line=ln,
                             xaxis=xa, yaxis=ya, hoverinfo="skip", **kw))

def dot(xa, ya, color):
    fig.add_trace(go.Scatter(x=stray_x, y=stray_y, mode="markers", marker=dict(color=color, size=2.5), xaxis=xa, yaxis=ya, hoverinfo="skip", cliponaxis=False))

def patches(xs, ys, xa, ya, color, size, symbol="circle"):
    fig.add_trace(go.Scatter(x=xs, y=ys, mode="markers", marker=dict(color=color, size=size, symbol=symbol, line=dict(width=0)), xaxis=xa, yaxis=ya, hoverinfo="skip"))

ax, ay = umap_axes(7, 68.3, 245, 480.7, 725)
for c, xs, ys in b_regions:
    poly(xs, ys, ax, ay, c)
for xs, ys in holes:
    poly(xs, ys, ax, ay, "#ffffff")
dot(ax, ay, "#d03030")

def speckle(xa, ya, base, layers):
    for xs, ys in outline_regions:
        poly(xs, ys, xa, ya, base)
        for col, sz, sol in layers:
            poly(xs, ys, xa, ya, "rgba(0,0,0,0)", dict(shape=".", fgcolor=col, bgcolor="rgba(0,0,0,0)", size=sz, solidity=sol), line=False)

def punch(xa, ya):
    for xs, ys in holes:
        poly(xs, ys, xa, ya, "#ffffff")

ax, ay = umap_axes(8, 441.7, 608.3, 515, 726.7)
speckle(ax, ay, "#9c7c3c", [("#4f8a5a", 3, .45), ("#e8d030", 4, .22), ("#8a4a38", 5, .3)])
for xs, ys in [(pink_top_x, pink_top_y), (pink_low_x, pink_low_y)]:
    poly(xs, ys, ax, ay, "rgba(0,0,0,0)", dict(shape=".", fgcolor="#d868ac", bgcolor="rgba(0,0,0,0)", size=3, solidity=.6), line=False)
patches(patch_a_x, patch_a_y, ax, ay, "#d868ac", 2.5, "square")
patches(patch_b_x, patch_b_y, ax, ay, "#f2e02a", 2.5, "square")
punch(ax, ay)
dot(ax, ay, "#b070c0")

ax, ay = umap_axes(9, 584.3, 731, 762, 950.3)
speckle(ax, ay, "#a9a9a9", [("#2f3a8f", 3, .55), ("#b8202a", 4, .6)])
patches(patch_a_x, patch_a_y, ax, ay, "#b8202a", 4)
patches(patch_b_x, patch_b_y, ax, ay, "#2f3a8f", 4)
punch(ax, ay)
dot(ax, ay, "#a9a9a9")

ax, ay = umap_axes(10, 583.3, 731, 1034.4, 1232.8)
speckle(ax, ay, "#d99526", [("#5c1216", 5, .12)])
patches(patch_a_x, patch_a_y, ax, ay, "#5c1216", 3)
patches(patch_b_x, patch_b_y, ax, ay, "#5c1216", 3)
punch(ax, ay)
dot(ax, ay, "#d99526")

# arrows + axis names
def umap_frame(xv, yb, ybreak_low, ybreak_high, tip_y, xbreak_l, xbreak_r, tip_x, size, xt, yt, ylab, xlab_y, arrowsize):
    L(xv, yb, xv, ybreak_low)
    arrow(xv, ybreak_high, xv, tip_y, arrowsize)
    L(xv, yb, xbreak_l, yb)
    arrow(xbreak_r, yb, tip_x, yb, arrowsize)
    T(xt, yt, "UMAP 1", size, "#111", "center", True)
    T(ylab, (ybreak_low + ybreak_high) / 2, "UMAP 2", size, "#111", "center", True, -90)

umap_frame(24.3, 731.7, 656, 570.7, 508, 108, 215, 268, 18.5, 160, 730, 24, 730, 3.2)
umap_frame(400, 738, 681.7, 613, 546, 464, 543, 583, 14, 505, 737, 397, 737, 2.6)
umap_frame(546.5, 962.3, 919.5, 838, 771, 581, 684, 756, 13.5, 633, 966.7, 543, 966, 2.6)
umap_frame(548, 1242, 1198.7, 1109.8, 1041.7, 584, 684, 756, 13.5, 636, 1247.6, 543, 1247, 2.6)

# patient legend
T(625.7, 560, "Patient ID", 11.8, "#444", bold=True)
lx, ly = axes(13, 0, W, 0, H, [0, W], [H, 0])
pos_x, pos_y = [], []
for i in range(58):
    if i < 21:
        mx, my = 629, 577.7 + i * 8.14
    elif i < 42:
        mx, my = 665.7, 577.7 + (i - 21) * 8.14
    else:
        mx, my = 709, 618.3 + (i - 42) * 8.14
    pos_x.append(mx); pos_y.append(my)
    T(mx + 9, my, f"P{i + 1}", 9.8, "#111", bold=True)
fig.add_trace(go.Scatter(x=pos_x, y=pos_y, mode="markers", xaxis=lx, yaxis=ly, hoverinfo="skip",
                         marker=dict(size=5, color=patient_colors, symbol=[patient_symbols[i % 4] for i in range(58)])))

# ---- box panels
def box_group(stats, pts, color, off, width, xa, ya, spread):
    fig.add_trace(go.Box(x=[k + off for k in range(9)], q1=[s[0] for s in stats], median=[s[1] for s in stats], q3=[s[2] for s in stats],
                         lowerfence=[s[3] for s in stats], upperfence=[s[4] for s in stats], width=width, fillcolor=color,
                         line=dict(color="#5a5a5a", width=1.3), whiskerwidth=0, boxpoints=False, xaxis=xa, yaxis=ya, hoverinfo="skip"))
    X, Y = [], []
    n = 0
    for k, vals in enumerate(pts):
        for v in vals:
            X.append(k + off + jitter[n % len(jitter)] * spread)
            Y.append(v)
            n += 1
    fig.add_trace(go.Scatter(x=X, y=Y, mode="markers", marker=dict(color="#000", size=2.6), xaxis=xa, yaxis=ya, hoverinfo="skip"))

def freq_y(ticks=True):
    return dict(visible=True, tickvals=[0, .2, .4, .6], ticktext=["0.0", "0.2", "0.4", "0.6"], ticks="outside", ticklen=3, tickcolor="#555", showline=True, linecolor="#555",
                linewidth=1.5, showgrid=False, zeroline=False, tickfont=dict(family=FONT, size=17, color="#444", weight="bold"))

dx0, dy0 = axes(11, 71, 716.7, 776, 1027.3, [(71 - 113.5) / 70.7, (716.7 - 113.5) / 70.7], [-.0433, .734],
                ykw=freq_y(), xkw=dict(visible=True, showline=True, linecolor="#111", linewidth=1.5, showticklabels=False, ticks="", showgrid=False, zeroline=False))
box_group(d_tumor, d_tumor_pts, "#b8202a", -.25, .229, dx0, dy0, 1)
box_group(d_abpt, d_abpt_pts, "#2f3a8f", 0, .229, dx0, dy0, 1)
box_group(d_rpt, d_rpt_pts, "#a9a9a9", .25, .229, dx0, dy0, 1)

ex0, ey0 = axes(12, 68, 714, 1061.7, 1305, [(68 - 111.3) / 72.15, (714 - 111.3) / 72.15], [-.0374, .7333],
                ykw=freq_y(),
                xkw=dict(visible=True, showline=True, linecolor="#333", linewidth=1.5, tickmode="array", tickvals=list(range(9)), showticklabels=False,
                         ticks="outside", ticklen=3, tickcolor="#555", showgrid=False, zeroline=False))
box_group(e_high, e_high_pts, "#5c1216", -.187, .342, ex0, ey0, 1)
box_group(e_inter, e_inter_pts, "#d99526", .187, .342, ex0, ey0, 1.3)
for s, x, y in zip(cats, cat_label_x, cat_label_y):
    T(x, y, s, 14, "#444", "center", True, -45, "left")

T(17, 923, "Frequency", 16, "#444", "center", False, -90)
T(17, 1200, "Frequency", 16, "#444", "center", False, -90)

# significance
L(379.3, 893.3, 395.7, 893.3, "#333", 1.2); T(387.5, 889, "*", 15, "#333", "center")
L(99, 1057.7, 115.7, 1057.7, "#333", 1.2); T(107.5, 1053, "*", 15, "#333", "center")
L(173.7, 1057.7, 190.3, 1057.7, "#333", 1.2); T(182, 1053, "*", 15, "#333", "center")

# swatch legends
def swatch(x0, x1, y0, y1, c):
    shapes.append(dict(type="rect", xref="paper", yref="paper", x0=x0 / W, x1=x1 / W, y0=1 - y0 / H, y1=1 - y1 / H, fillcolor=c, line=dict(width=0)))
swatch(420.7, 436, 782.4, 801.3, "#2f3a8f"); swatch(420.7, 436, 801.3, 820, "#b8202a"); swatch(420.7, 436, 820, 839, "#a9a9a9")
T(441.7, 789, "ABPT", 13, "#111"); T(439.5, 809, "Tumor", 13, "#111"); T(439.5, 828, "RPT", 13, "#111")
swatch(422.7, 437.3, 1063.7, 1082.5, "#5c1216"); swatch(422.7, 437.3, 1082.5, 1100.5, "#d99526")
T(444.5, 1073, "High grade", 12.8, "#111"); T(444.5, 1091, "Intermediate", 12, "#111")

fig.update_layout(width=W, height=H, margin=dict(l=0, r=0, t=0, b=0, autoexpand=False), showlegend=False, paper_bgcolor="rgba(255,255,255,1)", plot_bgcolor="rgba(0,0,0,0)", boxmode="overlay",
                  font=dict(family=FONT), annotations=anns, shapes=shapes, **layout)
fig.write_html("out.html", config=dict(displayModeBar=False, staticPlot=True), post_script="document.body.style.margin='0';")
